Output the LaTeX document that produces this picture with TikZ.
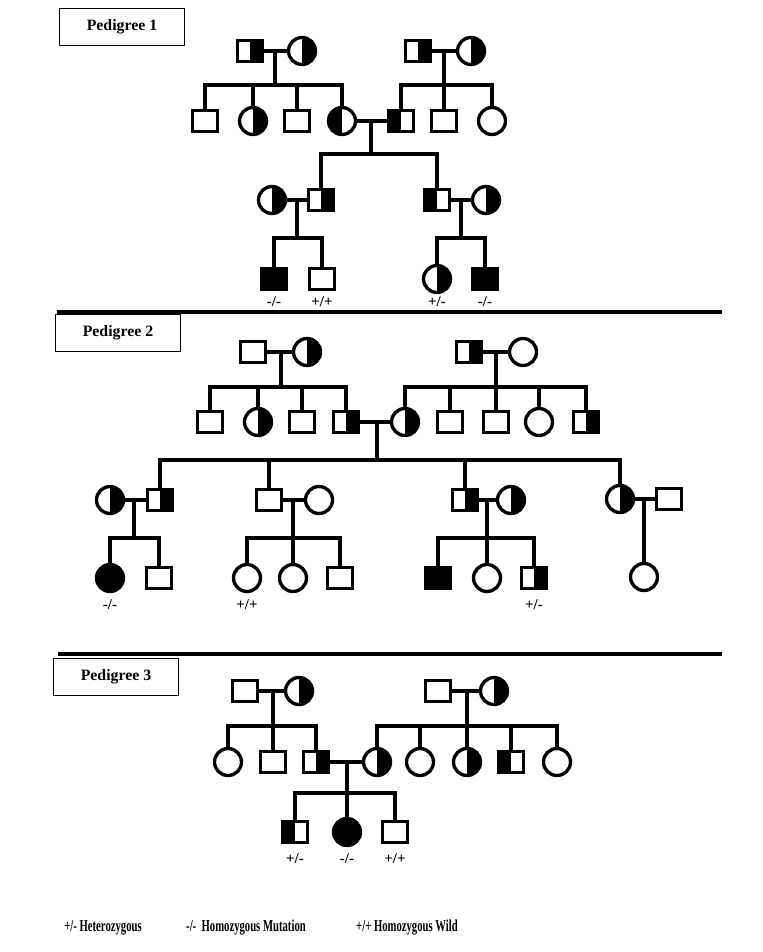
\documentclass[tikz,border=0pt]{standalone}
\usepackage{fontspec}
\setmainfont{Liberation Serif}
\newfontfamily\legendfont[FakeStretch=0.64]{Liberation Serif}
\usepackage{tikz}
\usetikzlibrary{shapes, positioning}

\begin{document}
\begin{tikzpicture}[
          x=0.02cm, y=-0.02cm,
          line width=1.9pt,
          male/.style={draw, rectangle, inner sep=0pt, minimum width=0.51cm, minimum height=0.43cm},
          female/.style={draw, circle, inner sep=0pt, minimum size=0.54cm},
          aff/.style={fill=black},
          carR/.style={path picture={\fill (path picture bounding box.north) rectangle (path picture bounding box.south east);}},
          carL/.style={path picture={\fill (path picture bounding box.north west) rectangle (path picture bounding box.south);}},
          gt/.style={font=\fontsize{8.5}{9}\selectfont\bfseries, inner sep=0pt},
          tag/.style={draw, line width=1pt, minimum width=2.5cm, minimum height=0.74cm, font=\fontsize{9}{10}\selectfont\bfseries},
          key/.style={font=\legendfont\fontsize{9.5}{10}\selectfont\bfseries, inner sep=0pt},
          rule/.style={line width=2.2pt}
        ]
        \useasboundingbox (0,0) rectangle (762,952);

        % Pedigree 1
        \node[tag] (tag1) at (122,27) {Pedigree 1};
        \node[male, carR] (p1-1-1) at (250,51) {};
        \node[female, carR] (p1-1-2) at (302,51) {};
        \node[male, carR] (p1-1-3) at (418,51) {};
        \node[female, carR] (p1-1-4) at (471,51) {};
        \node[male] (p1-2-1) at (205,121) {};
        \node[female, carR] (p1-2-2) at (253,121) {};
        \node[male] (p1-2-3) at (297,121) {};
        \node[female, carL] (p1-2-4) at (342,121) {};
        \node[male, carL] (p1-2-5) at (401,121) {};
        \node[male] (p1-2-6) at (444,121) {};
        \node[female] (p1-2-7) at (492,121) {};
        \node[female, carR] (p1-3-1) at (272,200) {};
        \node[male, carR] (p1-3-2) at (321,200) {};
        \node[male, carL] (p1-3-3) at (437,200) {};
        \node[female, carR] (p1-3-4) at (486,200) {};
        \node[male, aff] (p1-4-1) at (274,279) {};
        \node[male] (p1-4-2) at (322,279) {};
        \node[female, carR] (p1-4-3) at (437,279) {};
        \node[male, aff] (p1-4-4) at (485,279) {};
        \node[gt] (p1-g1) at (274,302) {-/-};
        \node[gt] (p1-g2) at (322,302) {+/+};
        \node[gt] (p1-g3) at (437,302) {+/-};
        \node[gt] (p1-g4) at (485,302) {-/-};
        \coordinate (p1-s1) at (275,85);
        \coordinate (p1-s2) at (444,85);
        \coordinate (p1-s3) at (371,154);
        \coordinate (p1-s4) at (297,238);
        \coordinate (p1-s5) at (461,238);

        \draw (p1-1-1) -- (p1-1-2);
        \draw (p1-s1 |- p1-1-1) -- (p1-s1);
        \draw (p1-2-1.north) |- (p1-s1) -| (p1-2-4.north);
        \foreach \c in {p1-2-2, p1-2-3} \draw (\c.north) -- (\c |- p1-s1);
        \draw (p1-1-3) -- (p1-1-4);
        \draw (p1-s2 |- p1-1-3) -- (p1-2-6.north);
        \draw (p1-2-5.north) |- (p1-s2) -| (p1-2-7.north);
        \draw (p1-2-4) -- (p1-2-5);
        \draw (p1-s3 |- p1-2-4) -- (p1-s3);
        \draw (p1-3-2.north) |- (p1-s3) -| (p1-3-3.north);
        \draw (p1-3-1) -- (p1-3-2);
        \draw (p1-s4 |- p1-3-1) -- (p1-s4);
        \draw (p1-4-1.north) |- (p1-s4) -| (p1-4-2.north);
        \draw (p1-3-3) -- (p1-3-4);
        \draw (p1-s5 |- p1-3-3) -- (p1-s5);
        \draw (p1-4-3.north) |- (p1-s5) -| (p1-4-4.north);

        \draw[rule] (57,312) -- (722,312);

        % Pedigree 2
        \node[tag] (tag2) at (118,333) {Pedigree 2};
        \node[male] (p2-1-1) at (253,352) {};
        \node[female, carR] (p2-1-2) at (307,352) {};
        \node[male, carR] (p2-1-3) at (469,352) {};
        \node[female] (p2-1-4) at (523,352) {};
        \node[male] (p2-2-1) at (210,422) {};
        \node[female, carR] (p2-2-2) at (258,422) {};
        \node[male] (p2-2-3) at (302,422) {};
        \node[male, carR] (p2-2-4) at (346,422) {};
        \node[female, carR] (p2-2-5) at (405,422) {};
        \node[male] (p2-2-6) at (450,422) {};
        \node[male] (p2-2-7) at (496,422) {};
        \node[female] (p2-2-8) at (539,422) {};
        \node[male, carR] (p2-2-9) at (586,422) {};
        \node[female, carR] (p2-3-1) at (110,500) {};
        \node[male, carR] (p2-3-2) at (160,500) {};
        \node[male] (p2-3-3) at (269,500) {};
        \node[female] (p2-3-4) at (319,500) {};
        \node[male, carR] (p2-3-5) at (465,500) {};
        \node[female, carR] (p2-3-6) at (511,500) {};
        \node[female, carR] (p2-3-7) at (620,499) {};
        \node[male] (p2-3-8) at (669,499) {};
        \node[female, aff] (p2-4-1) at (110,578) {};
        \node[male] (p2-4-2) at (159,578) {};
        \node[female] (p2-4-3) at (247,578) {};
        \node[female] (p2-4-4) at (293,578) {};
        \node[male] (p2-4-5) at (340,578) {};
        \node[male, aff] (p2-4-6) at (438,578) {};
        \node[female] (p2-4-7) at (487,578) {};
        \node[male, carR] (p2-4-8) at (534,578) {};
        \node[female] (p2-4-9) at (644,577) {};
        \node[gt] (p2-g1) at (110,605) {-/-};
        \node[gt] (p2-g2) at (247,605) {+/+};
        \node[gt] (p2-g3) at (534,605) {+/-};
        \coordinate (p2-s1) at (281,387);
        \coordinate (p2-s2) at (496,387);
        \coordinate (p2-s3) at (377,460);
        \coordinate (p2-s4) at (134,538);
        \coordinate (p2-s5) at (293,538);
        \coordinate (p2-s6) at (487,538);

        \draw (p2-1-1) -- (p2-1-2);
        \draw (p2-s1 |- p2-1-1) -- (p2-s1);
        \draw (p2-2-1.north) |- (p2-s1) -| (p2-2-4.north);
        \foreach \c in {p2-2-2, p2-2-3} \draw (\c.north) -- (\c |- p2-s1);
        \draw (p2-1-3) -- (p2-1-4);
        \draw (p2-s2 |- p2-1-3) -- (p2-2-7.north);
        \draw (p2-2-5.north) |- (p2-s2) -| (p2-2-9.north);
        \foreach \c in {p2-2-6, p2-2-8} \draw (\c.north) -- (\c |- p2-s2);
        \draw (p2-2-4) -- (p2-2-5);
        \draw (p2-s3 |- p2-2-4) -- (p2-s3);
        \draw (p2-3-2.north) |- (p2-s3) -| (p2-3-7.north);
        \foreach \c in {p2-3-3, p2-3-5} \draw (\c.north) -- (\c |- p2-s3);
        \draw (p2-3-1) -- (p2-3-2);
        \draw (p2-s4 |- p2-3-1) -- (p2-s4);
        \draw (p2-4-1.north) |- (p2-s4) -| (p2-4-2.north);
        \draw (p2-3-3) -- (p2-3-4);
        \draw (p2-s5 |- p2-3-3) -- (p2-4-4.north);
        \draw (p2-4-3.north) |- (p2-s5) -| (p2-4-5.north);
        \draw (p2-3-5) -- (p2-3-6);
        \draw (p2-s6 |- p2-3-5) -- (p2-4-7.north);
        \draw (p2-4-6.north) |- (p2-s6) -| (p2-4-8.north);
        \draw (p2-3-7) -- (p2-3-8);
        \draw (p2-4-9 |- p2-3-7) -- (p2-4-9.north);

        \draw[rule] (58,654) -- (722,654);

        % Pedigree 3
        \node[tag] (tag3) at (116,677) {Pedigree 3};
        \node[male] (p3-1-1) at (245,691) {};
        \node[female, carR] (p3-1-2) at (299,691) {};
        \node[male] (p3-1-3) at (438,691) {};
        \node[female, carR] (p3-1-4) at (494,691) {};
        \node[female] (p3-2-1) at (228,762) {};
        \node[male] (p3-2-2) at (273,762) {};
        \node[male, carR] (p3-2-3) at (316,762) {};
        \node[female, carR] (p3-2-4) at (377,762) {};
        \node[female] (p3-2-5) at (420,762) {};
        \node[female, carR] (p3-2-6) at (467,762) {};
        \node[male, carL] (p3-2-7) at (511,762) {};
        \node[female] (p3-2-8) at (557,762) {};
        \node[male, carL] (p3-3-1) at (295,832) {};
        \node[female, aff] (p3-3-2) at (347,832) {};
        \node[male] (p3-3-3) at (395,832) {};
        \node[gt] (p3-g1) at (295,859) {+/-};
        \node[gt] (p3-g2) at (347,859) {-/-};
        \node[gt] (p3-g3) at (395,859) {+/+};
        \coordinate (p3-s1) at (273,726);
        \coordinate (p3-s2) at (467,726);
        \coordinate (p3-s3) at (347,793);

        \draw (p3-1-1) -- (p3-1-2);
        \draw (p3-s1 |- p3-1-1) -- (p3-2-2.north);
        \draw (p3-2-1.north) |- (p3-s1) -| (p3-2-3.north);
        \draw (p3-1-3) -- (p3-1-4);
        \draw (p3-s2 |- p3-1-3) -- (p3-2-6.north);
        \draw (p3-2-4.north) |- (p3-s2) -| (p3-2-8.north);
        \foreach \c in {p3-2-5, p3-2-7} \draw (\c.north) -- (\c |- p3-s2);
        \draw (p3-2-3) -- (p3-2-4);
        \draw (p3-s3 |- p3-2-3) -- (p3-3-2.north);
        \draw (p3-3-1.north) |- (p3-s3) -| (p3-3-3.north);

        % key
        \node[key] (k1) at (103,928) {+/- Heterozygous};
        \node[key] (k2) at (246,928) {-/-\ \ Homozygous Mutation};
        \node[key] (k3) at (407,928) {+/+ Homozygous Wild};
        \end{tikzpicture}
\end{document}
